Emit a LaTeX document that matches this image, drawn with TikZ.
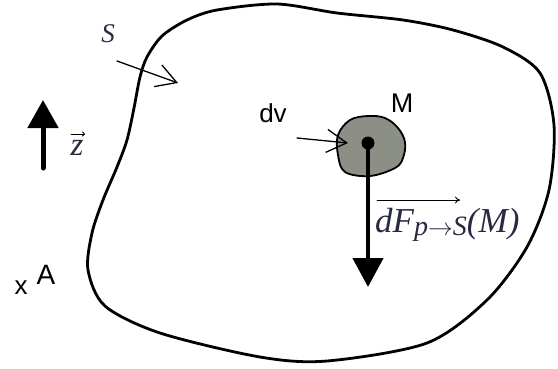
\documentclass[tikz,border=0pt]{standalone}
\usepackage{fontspec}
\setmainfont{Liberation Serif}
\newfontfamily\arialf{Liberation Sans}
\usetikzlibrary{arrows.meta}
\definecolor{ink}{RGB}{40,42,68}
\definecolor{blobgray}{RGB}{139,143,134}

\begin{document}
\begin{tikzpicture}[x=1pt,y=-1pt,line cap=round,line join=round]
\useasboundingbox (0,0) rectangle (558,368);
% the body S
\draw[line width=2.8pt] plot[smooth cycle,tension=0.5] coordinates {(140,77) (147,57) (162,36) (187,20) (217,10) (277,4) (337,13) (403,20) (453,30) (503,47) (540,73) (554,125) (549,190) (527,247) (487,300) (427,343) (327,361) (260,357) (160,333) (105,306) (88,270) (92,233) (103,200) (117,167) (127,140) (134,108)};
\node[inner sep=0,text=ink,font=\fontsize{27}{27}\selectfont\itshape] (S) at (108,34) {S};
\coordinate (Sfoot) at (117,61);
\coordinate (Shead) at (178,83);
\draw[line width=1.3pt,-{Straight Barb[length=20pt,width=23pt,line width=1.3pt]}] (Sfoot) -- (Shead);
% vertical axis
\coordinate (zfoot) at (43,168);
\coordinate (zhead) at (43,100);
\draw[line width=5pt,-{Triangle[length=28pt,width=30pt]}] (zfoot) -- (zhead);
\node[inner sep=0,text=ink,font=\fontsize{33}{33}\selectfont\itshape] (z) at (77,148) {z};
\draw[line width=0.8pt,-{To[length=3pt,width=5pt]}] (71,134) -- (85,134);
% the element dv around M
\draw[line width=1.8pt,fill=blobgray] plot[smooth cycle,tension=0.6] coordinates {(338,135) (350,120) (368,116) (385,118) (398,128) (405,142) (403,158) (395,168) (370,176) (345,172) (338,155)};
\node[circle,fill=black,inner sep=0,minimum size=13pt] (Mdot) at (368,143) {};
\node[inner sep=0,font=\arialf\fontsize{27}{27}\selectfont] (M) at (402,103) {M};
\node[inner sep=0,font=\arialf\fontsize{26}{26}\selectfont] (dv) at (273,113) {dv};
\coordinate (dvfoot) at (297,138);
\coordinate (dvhead) at (348,143);
\draw[line width=1.3pt,-{Straight Barb[length=20pt,width=23pt,line width=1.3pt]}] (dvfoot) -- (dvhead);
% force on M
\coordinate (Fhead) at (368,287);
\draw[line width=4.5pt,-{Triangle[length=29pt,width=30pt]}] (Mdot.center) -- (Fhead);
\node[anchor=base west,inner sep=0,text=ink,font=\fontsize{35}{35}\selectfont\itshape] (F) at (375,232) {dF\raisebox{-3pt}{\fontsize{28}{28}\selectfont p$\rightarrow$S}(M)};
\draw[line width=0.9pt,-{To[length=5pt,width=7pt]}] (377,200) -- (460,200);
% point A
\node[inner sep=0,font=\arialf\fontsize{28}{28}\selectfont] (A) at (46,275) {A};
\node[inner sep=0,font=\arialf\fontsize{26}{26}\selectfont] (Across) at (21,288) {x};
\end{tikzpicture}
\end{document}
